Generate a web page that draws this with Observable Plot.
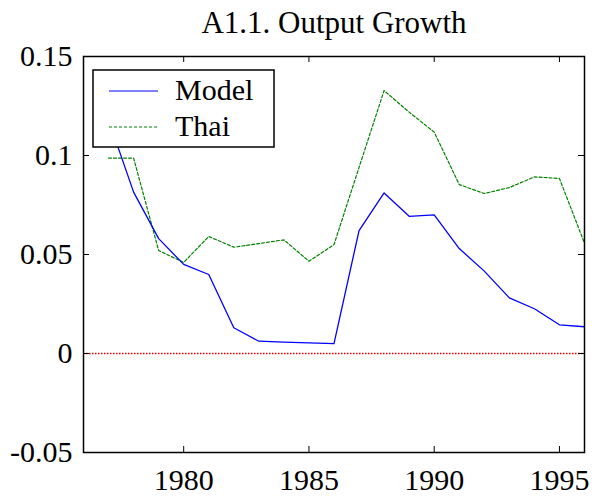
<!DOCTYPE html>
<html>
<head>
<meta charset="utf-8">
<script src="https://cdn.jsdelivr.net/npm/d3@7"></script>
<script src="https://cdn.jsdelivr.net/npm/@observablehq/plot@0.6"></script>
<style>
  html, body { margin: 0; padding: 0; background: #fff; }
  #chart svg { display: block; }
</style>
</head>
<body>
<div id="chart"></div>
<script>
const title = "A1.1. Output Growth";
const seriesNames = ["Model", "Thai"];
const years = [1977, 1978, 1979, 1980, 1981, 1982, 1983, 1984, 1985, 1986,
               1987, 1988, 1989, 1990, 1991, 1992, 1993, 1994, 1995, 1996];
const model = [0.118, 0.0815, 0.058, 0.0450, 0.0399, 0.0130, 0.0062, 0.0057, 0.0054, 0.0050,
               0.0621, 0.0811, 0.0693, 0.0700, 0.0530, 0.0416, 0.0281, 0.0226, 0.0145, 0.0135];
const thai  = [0.0987, 0.0987, 0.0520, 0.0460, 0.0591, 0.0537, 0.0555, 0.0574, 0.0466, 0.0550,
               0.0940, 0.1328, 0.1219, 0.1118, 0.0853, 0.0808, 0.0838, 0.0892, 0.0884, 0.0557];
const xTicks = [1980, 1985, 1990, 1995];
const yTicks = [-0.05, 0, 0.05, 0.1, 0.15];
const xDomain = [1976, 1996];
const yDomain = [-0.05, 0.15];

const W = 592, H = 499;
const mL = 83, mR = 8, mT = 56, mB = 47;
const iW = W - mL - mR, iH = H - mT - mB;
const font = "'Liberation Serif', 'Times New Roman', serif";

const rows = years.map((y, i) => ({year: y, model: model[i], thai: thai[i]}));
const blue = "#0000ff", green = "#008000";

const plot = Plot.plot({
  width: W, height: H,
  marginLeft: mL, marginRight: mR, marginTop: mT, marginBottom: mB,
  style: {fontFamily: font, fontSize: "30px", background: "white", color: "black"},
  x: {domain: xDomain},
  y: {domain: yDomain},
  marks: [
    Plot.ruleY([0], {stroke: "#ee0000", strokeWidth: 1.4, strokeDasharray: "1.5,1.5"}),
    Plot.line(rows, {x: "year", y: "thai", stroke: green, strokeWidth: 1.2, strokeDasharray: "3,2"}),
    Plot.line(rows, {x: "year", y: "model", stroke: blue, strokeWidth: 1.3}),
    Plot.tickX(xTicks, {x: d => d, insetTop: iH - 6, stroke: "black", strokeWidth: 1}),
    Plot.tickX(xTicks, {x: d => d, insetBottom: iH - 6, stroke: "black", strokeWidth: 1}),
    Plot.tickY(yTicks, {y: d => d, insetRight: iW - 6, stroke: "black", strokeWidth: 1}),
    Plot.tickY(yTicks, {y: d => d, insetLeft: iW - 6, stroke: "black", strokeWidth: 1}),
    Plot.frame({stroke: "black", strokeWidth: 1.5}),
    Plot.axisX(xTicks, {tickSize: 0, tickPadding: 16, fontSize: 30, tickFormat: d => String(d), label: null}),
    Plot.axisY(yTicks, {tickSize: 0, tickPadding: 11, fontSize: 30, tickFormat: d => String(d), label: null}),
    Plot.text([title], {frameAnchor: "top", dy: -24, lineAnchor: "bottom", fontSize: 31, text: d => d})
  ]
});

// Legend box drawn on top (pixel layout), entries from the series names
const svg = d3.select(plot);
const lg = svg.append("g").attr("font-family", font).attr("font-size", 30).attr("text-anchor", "start");
lg.append("rect").attr("x", 93).attr("y", 70).attr("width", 181).attr("height", 77)
  .attr("fill", "white").attr("stroke", "black").attr("stroke-width", 1.5);
const entries = [
  {name: seriesNames[0], color: blue, dash: null, y: 91},
  {name: seriesNames[1], color: green, dash: "3,2", y: 127}
];
entries.forEach(e => {
  lg.append("line").attr("x1", 109).attr("x2", 158).attr("y1", e.y).attr("y2", e.y)
    .attr("stroke", e.color).attr("stroke-width", 1.2)
    .attr("stroke-dasharray", e.dash);
  lg.append("text").attr("x", 175).attr("y", e.y + 9).text(e.name).attr("fill", "black");
});

document.getElementById("chart").appendChild(plot);
</script>
</body>
</html>
